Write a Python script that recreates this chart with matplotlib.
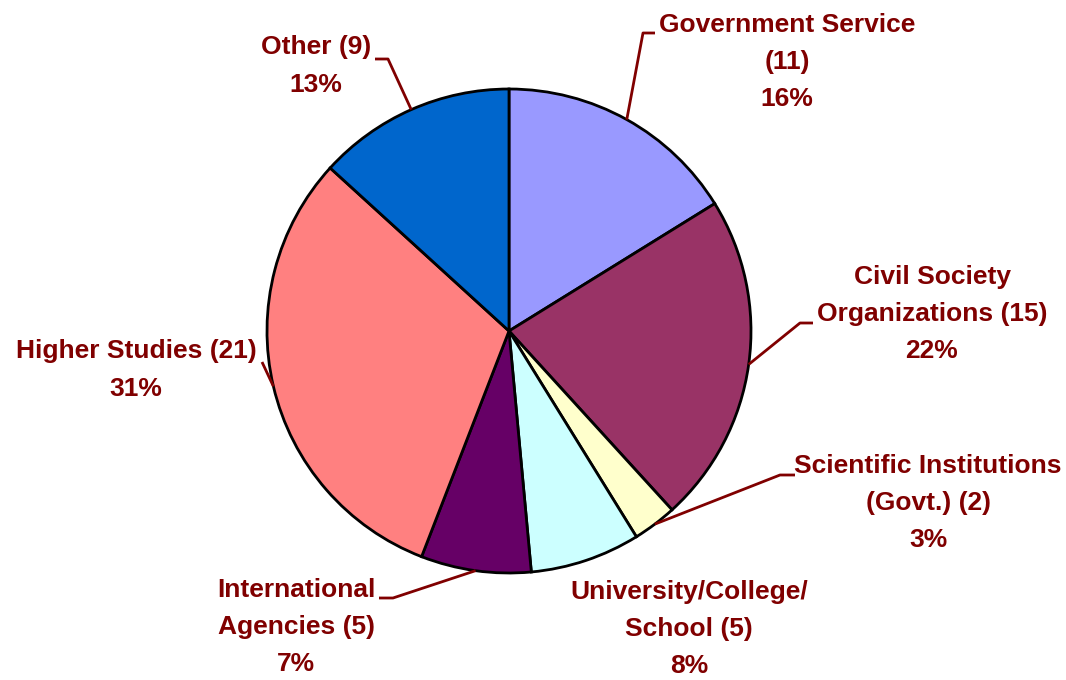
import matplotlib
matplotlib.use("Agg")
import matplotlib.pyplot as plt
import numpy as np

# data (clockwise from 12 o'clock)
labels = ["Government Service\n(11)", "Civil Society\nOrganizations (15)",
          "Scientific Institutions\n(Govt.) (2)", "University/College/\nSchool (5)",
          "International\nAgencies (5)", "Higher Studies (21)", "Other (9)"]
counts = [11, 15, 2, 5, 5, 21, 9]
percents = ["16%", "22%", "3%", "8%", "7%", "31%", "13%"]
colors = ["#9999FF", "#993366", "#FFFFCC", "#CCFFFF", "#660066", "#FF8080", "#0066CC"]

W, H = 1066, 680
cx, cy, R = 509, 331, 242
textColor = "#800000"

# label block centres (pixels from top-left) and leader elbows
labelPos = [(787, 62), (932, 314), (928, 503), (689, 629), (296, 627), (136, 370), (316, 66)]
elbows = [[(655, 33), (643, 33)], [(813, 323), (800, 323)], [(795, 475), (780, 475)],
          None, [(379, 598), (393, 598)], [(262, 362)], [(375, 59), (388, 59)]]

fig = plt.figure(figsize=(W / 100, H / 100), dpi=100)
ax = fig.add_axes([0, 0, 1, 1])

wedges, _ = ax.pie(counts, colors=colors, startangle=90, counterclock=False,
                   center=(cx, H - cy), radius=R, frame=True,
                   wedgeprops=dict(edgecolor="black", linewidth=2))
ax.set_xlim(0, W)
ax.set_ylim(0, H)
ax.axis("off")

fontFam = ["Liberation Sans Narrow", "Liberation Sans", "DejaVu Sans"]
for i, w in enumerate(wedges):
    mid = np.deg2rad((w.theta1 + w.theta2) / 2)
    ax_ = cx + R * np.cos(mid)
    ay_ = (H - cy) + R * np.sin(mid)
    if elbows[i] is not None:
        pts = [(x, H - y) for x, y in elbows[i]] + [(ax_, ay_)]
        xs, ys = zip(*pts)
        ax.plot(xs, ys, color=textColor, lw=2, solid_capstyle="butt")
    lx, ly = labelPos[i]
    ax.text(lx, H - ly, labels[i] + "\n" + percents[i], ha="center", va="center",
            color=textColor, fontsize=19, fontweight="bold", family=fontFam,
            linespacing=1.7)

fig.savefig("out.png", dpi=100)
